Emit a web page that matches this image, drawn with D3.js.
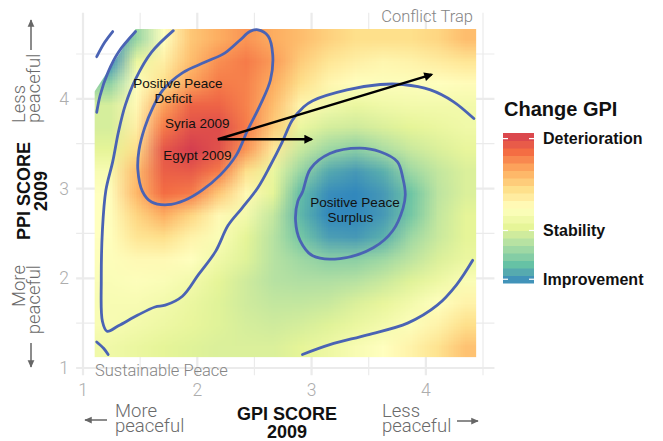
<!DOCTYPE html>
<head>
  <meta charset="utf-8">
  <script src="https://d3js.org/d3.v7.min.js"></script>
  <style>
    body { margin:0; background:#fff; }
    svg text { font-family: "Liberation Sans", Arial, sans-serif; }
    .light { font-family: Roboto, "Liberation Sans", sans-serif !important; font-weight: 300; }
  </style>
</head>

<body>
  <script>
    var width = 663;
    var height = 441;

    // fitted change-in-GPI surface (cell centres)
    var gpiCells = [1.22, 1.46, 1.70, 1.94, 2.18, 2.42, 2.66, 2.90, 3.14, 3.38, 3.62, 3.86, 4.10, 4.34];
    var ppiCells = [4.67, 4.425, 4.18, 3.935, 3.69, 3.445, 3.20, 2.955, 2.71, 2.465, 2.22, 1.975, 1.73, 1.485, 1.24];
    var changeGrid = [
      [-0.30, -0.13, 0.10, 0.25, 0.30, 0.34, 0.30, 0.27, 0.23, 0.20, 0.20, 0.20, 0.22, 0.27],
      [-0.30, 0.02, 0.15, 0.27, 0.35, 0.38, 0.33, 0.24, 0.18, 0.15, 0.13, 0.14, 0.16, 0.18],
      [-0.15, 0.10, 0.20, 0.32, 0.38, 0.37, 0.30, 0.20, 0.13, 0.10, 0.09, 0.09, 0.10, 0.11],
      [-0.03, 0.12, 0.32, 0.42, 0.42, 0.37, 0.27, 0.13, 0.05, 0.02, 0.04, 0.05, 0.05, 0.05],
      [-0.03, 0.15, 0.38, 0.46, 0.47, 0.38, 0.24, 0.02, -0.03, -0.04, -0.02, 0.00, 0.02, 0.04],
      [0.00, 0.20, 0.45, 0.50, 0.46, 0.34, 0.17, -0.05, -0.12, -0.15, -0.10, -0.05, -0.02, 0.01],
      [0.07, 0.27, 0.43, 0.44, 0.38, 0.20, 0.02, -0.13, -0.24, -0.27, -0.23, -0.12, -0.06, -0.02],
      [0.10, 0.28, 0.40, 0.38, 0.25, 0.12, 0.00, -0.21, -0.29, -0.30, -0.27, -0.19, -0.07, -0.02],
      [0.10, 0.22, 0.30, 0.22, 0.12, 0.05, -0.06, -0.22, -0.30, -0.30, -0.27, -0.18, -0.06, 0.00],
      [0.10, 0.18, 0.20, 0.14, 0.08, 0.00, -0.08, -0.18, -0.26, -0.27, -0.23, -0.12, -0.05, 0.00],
      [0.09, 0.12, 0.12, 0.10, 0.04, -0.01, -0.08, -0.12, -0.15, -0.15, -0.12, -0.07, -0.02, 0.02],
      [0.08, 0.09, 0.08, 0.05, 0.00, -0.04, -0.08, -0.09, -0.09, -0.08, -0.05, -0.01, 0.03, 0.08],
      [0.07, 0.07, 0.05, 0.02, -0.01, -0.04, -0.06, -0.06, -0.05, -0.02, 0.01, 0.05, 0.10, 0.14],
      [0.07, 0.05, 0.03, 0.01, -0.01, -0.03, -0.04, -0.03, -0.01, 0.02, 0.05, 0.09, 0.14, 0.20],
      [0.04, 0.02, 0.00, -0.01, -0.02, -0.02, -0.02, 0.00, 0.03, 0.07, 0.10, 0.14, 0.19, 0.26]
    ];
    // area where the surface is defined
    var surfaceHull = [[1.10, 1.12], [4.44, 1.12], [4.44, 4.78], [1.46, 4.78], [1.10, 4.08]];

    // density contour lines [GPI, PPI]
    var deficitContour = [[2.53, 4.77], [2.62, 4.70], [2.66, 4.49], [2.64, 4.21], [2.55, 3.93], [2.44, 3.65],
      [2.34, 3.37], [2.20, 3.15], [2.04, 2.98], [1.89, 2.87], [1.74, 2.82], [1.60, 2.85], [1.52, 2.97],
      [1.48, 3.21], [1.49, 3.43], [1.54, 3.68], [1.61, 3.90], [1.70, 4.10], [1.87, 4.29], [2.07, 4.41],
      [2.24, 4.51], [2.37, 4.65], [2.46, 4.75]];
    var surplusContour = [[2.92, 2.96], [2.99, 3.22], [3.16, 3.39], [3.42, 3.45], [3.60, 3.41], [3.75, 3.30],
      [3.80, 3.11], [3.82, 2.93], [3.80, 2.78], [3.71, 2.53], [3.54, 2.34], [3.25, 2.22], [3.01, 2.25],
      [2.90, 2.42], [2.86, 2.64], [2.88, 2.86]];
    var middleContour = [[1.79, 4.76], [1.60, 4.52], [1.46, 4.22], [1.37, 3.93], [1.31, 3.63], [1.26, 3.30],
      [1.20, 2.98], [1.17, 2.54], [1.16, 1.98], [1.17, 1.52], [1.21, 1.41], [1.31, 1.47], [1.48, 1.59],
      [1.63, 1.68], [1.72, 1.70], [1.87, 1.80], [2.01, 2.04], [2.16, 2.30], [2.27, 2.59], [2.39, 2.78],
      [2.53, 3.01], [2.64, 3.26], [2.74, 3.51], [2.83, 3.76], [2.93, 3.91], [3.01, 3.98], [3.31, 4.10],
      [3.60, 4.16], [3.80, 4.16], [4.04, 4.10], [4.24, 3.97], [4.42, 3.78]];
    var outerContour = [[1.12, 3.85], [1.15, 4.04], [1.22, 4.30], [1.31, 4.52], [1.46, 4.75]];
    var cornerContour = [[1.12, 4.47], [1.19, 4.63], [1.26, 4.75]];
    var lowLeftContour = [[1.12, 1.29], [1.18, 1.22], [1.22, 1.15]];
    var lowRightContour = [[2.92, 1.15], [3.16, 1.26], [3.49, 1.37], [3.84, 1.50], [4.10, 1.70], [4.27, 1.93], [4.41, 2.20]];

    // country moves 2009 -> later
    var moveFrom = [2.18, 3.55];
    var moveTo = [[4.05, 4.27], [3.00, 3.55]];

    var plotNotes = [
      { text: "Positive Peace", x: 1.83, y: 4.17 },
      { text: "Deficit", x: 1.79, y: 4.00 },
      { text: "Syria 2009", x: 2.00, y: 3.72 },
      { text: "Egypt 2009", x: 2.00, y: 3.37 },
      { text: "Positive Peace", x: 3.38, y: 2.84 },
      { text: "Surplus", x: 3.34, y: 2.68 }
    ];

    var majorTicks = [1, 2, 3, 4];
    var minorTicks = [1.5, 2.5, 3.5, 4.5];
    var spectral = ["#d53e4f", "#f46d43", "#fdae61", "#fee08b", "#ffffbf", "#e6f598", "#abdda4", "#66c2a5", "#3288bd"];
    var changeMax = 0.5, changeMin = -0.3;
    var legendBreaks = [0.47, -0.02, -0.28];
    var legendLabels = ["Deterioration", "Stability", "Improvement"];

    var x = d3.scaleLinear().domain([1, 4.5]).range([83, 483]);
    var y = d3.scaleLinear().domain([1, 4.5]).range([368, 54]);
    var xLim = [0.94, 4.6], yLim = [0.92, 4.96];

    var color = d3.scaleLinear()
      .domain(spectral.map(function(c, i) { return changeMax - i * (changeMax - changeMin) / (spectral.length - 1); }))
      .range(spectral)
      .interpolate(d3.interpolateLab)
      .clamp(true);

    var svg = d3.select("body")
      .append("svg")
      .attr("width", width)
      .attr("height", height);

    var defs = svg.append("defs");

    // grid
    var grid = svg.append("g");
    majorTicks.concat(minorTicks).forEach(function(v) {
      var major = majorTicks.indexOf(v) >= 0;
      grid.append("line")
        .attr("x1", x(v)).attr("x2", x(v))
        .attr("y1", y(yLim[0])).attr("y2", y(yLim[1]))
        .attr("stroke", "#ebebeb").attr("stroke-width", major ? 2.2 : 1.2);
      grid.append("line")
        .attr("x1", x(xLim[0])).attr("x2", x(xLim[1]))
        .attr("y1", y(v)).attr("y2", y(v))
        .attr("stroke", "#ebebeb").attr("stroke-width", major ? 2.2 : 1.2);
    });

    // surface raster
    var nx = gpiCells.length, ny = ppiCells.length;
    var canvas = document.createElement("canvas");
    canvas.width = nx; canvas.height = ny;
    var ctx = canvas.getContext("2d");
    var img = ctx.createImageData(nx, ny);
    changeGrid.forEach(function(row, j) {
      row.forEach(function(v, i) {
        var c = d3.rgb(color(v));
        var k = (j * nx + i) * 4;
        img.data[k] = c.r; img.data[k + 1] = c.g; img.data[k + 2] = c.b; img.data[k + 3] = 255;
      });
    });
    ctx.putImageData(img, 0, 0);

    var dx = gpiCells[1] - gpiCells[0];
    var dy = ppiCells[0] - ppiCells[1];

    defs.append("clipPath").attr("id", "hull")
      .append("path")
      .attr("d", d3.line().x(function(d) { return x(d[0]); }).y(function(d) { return y(d[1]); })(surfaceHull) + "Z");

    svg.append("image")
      .attr("href", canvas.toDataURL())
      .attr("x", x(gpiCells[0] - dx / 2))
      .attr("y", y(ppiCells[0] + dy / 2))
      .attr("width", x(gpiCells[nx - 1] + dx / 2) - x(gpiCells[0] - dx / 2))
      .attr("height", y(ppiCells[ny - 1] - dy / 2) - y(ppiCells[0] + dy / 2))
      .attr("preserveAspectRatio", "none")
      .attr("clip-path", "url(#hull)");

    // contours
    var openLine = d3.line()
      .x(function(d) { return x(d[0]); })
      .y(function(d) { return y(d[1]); })
      .curve(d3.curveCatmullRom.alpha(0.5));
    var closedLine = d3.line()
      .x(function(d) { return x(d[0]); })
      .y(function(d) { return y(d[1]); })
      .curve(d3.curveCatmullRomClosed.alpha(0.5));

    var contours = svg.append("g")
      .attr("fill", "none")
      .attr("stroke", "#4a63b4")
      .attr("stroke-width", 2.8)
      .attr("stroke-linecap", "round");
    [middleContour, outerContour, cornerContour, lowLeftContour, lowRightContour].forEach(function(c) {
      contours.append("path").attr("d", openLine(c));
    });
    [deficitContour, surplusContour].forEach(function(c) {
      contours.append("path").attr("d", closedLine(c));
    });

    // movement arrows
    defs.append("marker")
      .attr("id", "head")
      .attr("viewBox", "0 0 10 10")
      .attr("refX", 8).attr("refY", 5)
      .attr("markerWidth", 4.5).attr("markerHeight", 3.6)
      .attr("orient", "auto")
      .append("path").attr("d", "M0,0L10,5L0,10z").attr("fill", "#000");

    svg.append("g").selectAll("line")
      .data(moveTo)
      .enter().append("line")
      .attr("x1", x(moveFrom[0])).attr("y1", y(moveFrom[1]))
      .attr("x2", function(d) { return x(d[0]); })
      .attr("y2", function(d) { return y(d[1]); })
      .attr("stroke", "#000").attr("stroke-width", 2.5)
      .attr("marker-end", "url(#head)");

    // labels inside plot
    svg.append("g").selectAll("text")
      .data(plotNotes)
      .enter().append("text")
      .attr("x", function(d) { return x(d.x); })
      .attr("y", function(d) { return y(d.y); })
      .attr("text-anchor", "middle")
      .attr("dominant-baseline", "central")
      .style("font-size", "13.5px")
      .attr("fill", "#111")
      .text(function(d) { return d.text; });

    svg.append("text").attr("class", "light")
      .attr("x", 473).attr("y", 22).attr("text-anchor", "end")
      .attr("fill", "#858585").style("font-size", "16.5px")
      .text("Conflict Trap");
    svg.append("text").attr("class", "light")
      .attr("x", 95).attr("y", 376)
      .attr("fill", "#858585").style("font-size", "16.5px")
      .text("Sustainable Peace");

    // tick labels
    svg.append("g").selectAll("text")
      .data(majorTicks)
      .enter().append("text").attr("class", "light")
      .attr("x", function(d) { return x(d); })
      .attr("y", 396)
      .attr("text-anchor", "middle")
      .attr("fill", "#adadad").style("font-size", "17.5px")
      .text(function(d) { return d; });
    svg.append("g").selectAll("text")
      .data(majorTicks)
      .enter().append("text").attr("class", "light")
      .attr("x", 69)
      .attr("y", function(d) { return y(d) + 6; })
      .attr("text-anchor", "end")
      .attr("fill", "#adadad").style("font-size", "17.5px")
      .text(function(d) { return d; });

    // axis titles
    var xt = svg.append("text").attr("text-anchor", "middle")
      .style("font-size", "18px").style("font-weight", "bold").attr("fill", "#111");
    xt.append("tspan").attr("x", 287).attr("y", 420).text("GPI SCORE");
    xt.append("tspan").attr("x", 287).attr("y", 438).text("2009");

    var yt = svg.append("text").attr("text-anchor", "middle")
      .attr("transform", "translate(0,191) rotate(-90)")
      .style("font-size", "18px").style("font-weight", "bold").attr("fill", "#111");
    yt.append("tspan").attr("x", 0).attr("y", 30).text("PPI SCORE");
    yt.append("tspan").attr("x", 0).attr("y", 47).text("2009");

    // direction hints
    defs.append("marker")
      .attr("id", "hint")
      .attr("viewBox", "0 0 10 10")
      .attr("refX", 9).attr("refY", 5)
      .attr("markerWidth", 5).attr("markerHeight", 5)
      .attr("orient", "auto")
      .append("path").attr("d", "M0,0.5L10,5L0,9.5z").attr("fill", "#666");

    function hintArrow(x1, y1, x2, y2) {
      svg.append("line")
        .attr("x1", x1).attr("y1", y1).attr("x2", x2).attr("y2", y2)
        .attr("stroke", "#666").attr("stroke-width", 1.5)
        .attr("marker-end", "url(#hint)");
    }

    function hintText(lines, tx, ty, rot, anchor) {
      var t = svg.append("text").attr("class", "light")
        .attr("transform", "translate(" + tx + "," + ty + ") rotate(" + rot + ")")
        .attr("text-anchor", anchor)
        .attr("fill", "#6a6a6a").style("font-size", "18.5px");
      lines.forEach(function(s, i) {
        t.append("tspan").attr("x", 0).attr("y", i * 15).text(s);
      });
    }

    hintText(["More", "peaceful"], 115, 417, 0, "start");
    hintArrow(107, 420, 85, 420);
    hintText(["Less", "peaceful"], 382, 417, 0, "start");
    hintArrow(457, 421, 478, 421);

    hintText(["Less", "peaceful"], 25, 123, -90, "start");
    hintArrow(31, 50, 31, 20);
    hintText(["More", "peaceful"], 25, 265, -90, "end");
    hintArrow(31, 343, 31, 367);

    // legend
    var yl = d3.scaleLinear().domain([changeMin, changeMax]).range([283, 133]);
    var nbin = 20;
    var binStep = (changeMax - changeMin) / nbin;
    var legend = svg.append("g");

    legend.append("text")
      .attr("x", 504).attr("y", 116)
      .style("font-size", "20px").style("font-weight", "bold").attr("fill", "#111")
      .text("Change GPI");

    legend.selectAll("rect")
      .data(d3.range(nbin))
      .enter().append("rect")
      .attr("x", 503).attr("width", 31)
      .attr("y", function(i) { return yl(changeMin + (i + 1) * binStep); })
      .attr("height", function(i) { return yl(changeMin + i * binStep) - yl(changeMin + (i + 1) * binStep) + 0.5; })
      .attr("fill", function(i) { return color(changeMin + (i + 0.5) * binStep); });

    legendBreaks.forEach(function(b, i) {
      legend.append("line").attr("x1", 503).attr("x2", 508).attr("y1", yl(b)).attr("y2", yl(b))
        .attr("stroke", "#fff").attr("stroke-width", 1.2);
      legend.append("line").attr("x1", 529).attr("x2", 534).attr("y1", yl(b)).attr("y2", yl(b))
        .attr("stroke", "#fff").attr("stroke-width", 1.2);
      legend.append("text")
        .attr("x", 543).attr("y", yl(b))
        .attr("dominant-baseline", "central")
        .style("font-size", "16px").style("font-weight", "bold").attr("fill", "#111")
        .text(legendLabels[i]);
    });
  </script>
</body>
